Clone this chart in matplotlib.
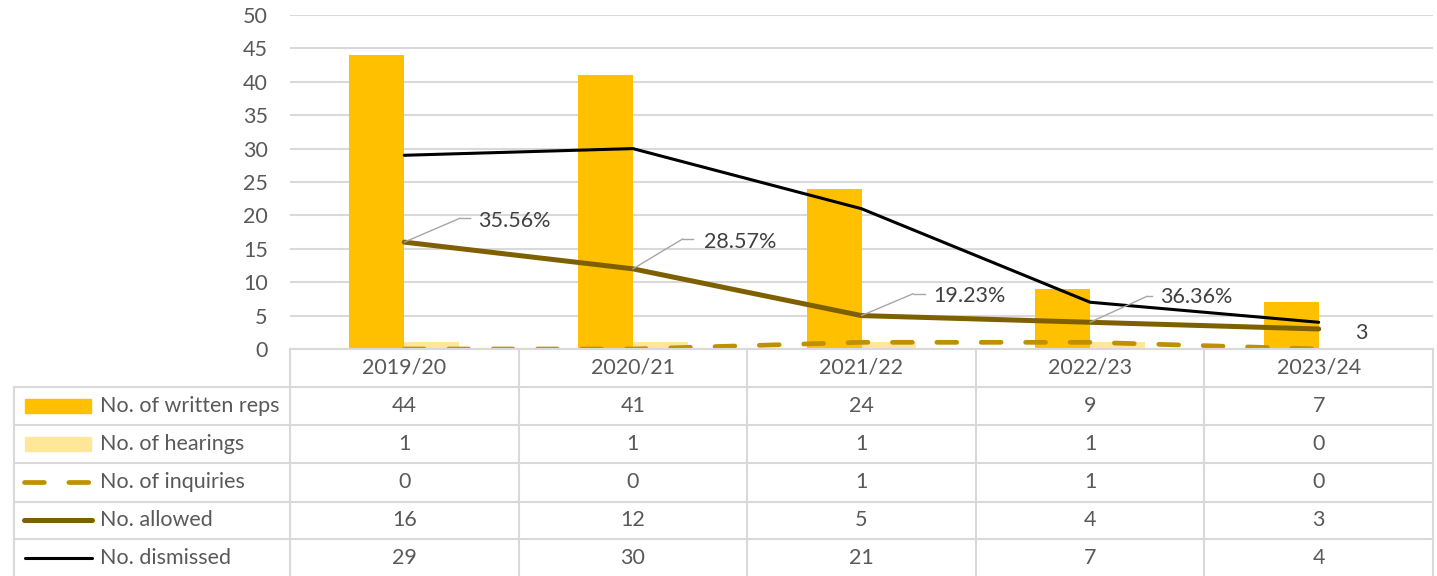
import matplotlib
matplotlib.use("Agg")
import matplotlib.pyplot as plt
from matplotlib.transforms import blended_transform_factory
from matplotlib.patches import Rectangle
from matplotlib.lines import Line2D

categories = ["2019/20", "2020/21", "2021/22", "2022/23", "2023/24"]
written_reps = [44, 41, 24, 9, 7]
hearings = [1, 1, 1, 1, 0]
inquiries = [0, 0, 1, 1, 0]
allowed = [16, 12, 5, 4, 3]
dismissed = [29, 30, 21, 7, 4]
allowed_labels = ["35.56%", "28.57%", "19.23%", "36.36%", "3"]
series_names = ["No. of written reps", "No. of hearings", "No. of inquiries",
                "No. allowed", "No. dismissed"]
yticks = [0, 5, 10, 15, 20, 25, 30, 35, 40, 45, 50]

C_WRITTEN = "#FFC000"
C_HEAR = "#FFE699"
C_INQ = "#BF9000"
C_ALLOW = "#7F6000"
C_DISM = "#000000"
C_TEXT = "#595959"
C_GRID = "#D9D9D9"

plt.rcParams["font.family"] = ["Lato", "DejaVu Sans"]
FS = 15.5

W, H = 1437, 576
fig = plt.figure(figsize=(W / 100, H / 100), dpi=100)

def fx(px):
    return px / W

def fy(py):
    return 1 - py / H

ax = fig.add_axes([fx(290), fy(349), fx(1433) - fx(290), fy(15) - fy(349)])
ax.set_xlim(-0.5, 4.5)
ax.set_ylim(0, 50)
ax.set_yticks(yticks)
ax.tick_params(axis="y", length=0, pad=16, labelsize=FS, labelcolor=C_TEXT)
ax.set_xticks([])
for s in ax.spines.values():
    s.set_visible(False)
ax.grid(axis="y", color=C_GRID, lw=1.5)
ax.set_axisbelow(True)

x = list(range(len(categories)))
bw = 0.24
ax.bar([i - 0.12 for i in x], written_reps, width=bw, color=C_WRITTEN, zorder=2)
ax.bar([i + 0.12 for i in x], hearings, width=bw, color=C_HEAR, zorder=2)

ax.plot(x, inquiries, color=C_INQ, lw=3.4, dashes=(4.2, 5.2),
        dash_capstyle="round", solid_capstyle="round", zorder=4)
ax.plot(x, allowed, color=C_ALLOW, lw=3.6, solid_capstyle="round", zorder=5)
ax.plot(x, dismissed, color=C_DISM, lw=2.2, solid_capstyle="round", zorder=6)

# data labels with leader lines (offsets in pixels)
offsets = [
    (56, 24, 66, 74, 21),
    (50, 30, 60, 71, 27),
    (52, 22, 63, 72, 20),
    (57, 26, 62, 70, 25),
]
for i, (ex, ey, hx, tx, ty) in enumerate(offsets):
    ax.annotate("", xy=(i, allowed[i]), xytext=(ex, ey), textcoords="offset pixels",
                arrowprops=dict(arrowstyle="-", color="#A6A6A6", lw=1.0,
                                shrinkA=0, shrinkB=0), zorder=7)
    p0 = ax.transData.transform((i, allowed[i]))
    fig.add_artist(Line2D([fx(p0[0] + ex), fx(p0[0] + hx)],
                          [(p0[1] + ey) / H, (p0[1] + ey) / H],
                          color="#A6A6A6", lw=1.0, transform=fig.transFigure))
    ax.annotate(allowed_labels[i], xy=(i, allowed[i]), xytext=(tx, ty),
                textcoords="offset pixels", ha="left", va="center",
                fontsize=FS, color="#404040", zorder=8)
ax.annotate(allowed_labels[4], xy=(4, allowed[4]), xytext=(36, -4),
            textcoords="offset pixels", ha="left", va="center",
            fontsize=FS, color="#404040", zorder=8)

# ----- data table -----
tr = blended_transform_factory(ax.transData, fig.transFigure)
row_lines = [387, 425, 463, 502, 539]
row_centers = [406, 444, 482, 520, 558]
lc = C_GRID
lw_t = 1.5
fig.add_artist(Line2D([fx(290), fx(1433)], [fy(349), fy(349)], color=lc, lw=lw_t))
for yy in row_lines:
    fig.add_artist(Line2D([fx(14), fx(1433)], [fy(yy), fy(yy)], color=lc, lw=lw_t))
fig.add_artist(Line2D([fx(14), fx(14)], [fy(387), 0], color=lc, lw=lw_t))
for b in [-0.5 + k for k in range(6)]:
    fig.add_artist(Line2D([b, b], [fy(349), 0], color=lc, lw=lw_t, transform=tr,
                          clip_on=False))

for i, c in enumerate(categories):
    fig.text(i, fy(368), c, transform=tr, ha="center", va="center",
             fontsize=FS, color=C_TEXT)

table_vals = [written_reps, hearings, inquiries, allowed, dismissed]
for r, vals in enumerate(table_vals):
    for i, v in enumerate(vals):
        fig.text(i, fy(row_centers[r]), str(v), transform=tr, ha="center",
                 va="center", fontsize=FS, color=C_TEXT)
    fig.text(fx(100), fy(row_centers[r]), series_names[r], ha="left",
             va="center", fontsize=FS, color=C_TEXT)

# legend keys
kc = row_centers
fig.add_artist(Rectangle((fx(25), fy(kc[0] + 7)), fx(91) - fx(25), 14 / H,
                         color=C_WRITTEN, transform=fig.transFigure))
fig.add_artist(Rectangle((fx(25), fy(kc[1] + 7)), fx(91) - fx(25), 14 / H,
                         color=C_HEAR, transform=fig.transFigure))
fig.add_artist(Line2D([fx(24), fx(90)], [fy(kc[2]), fy(kc[2])], color=C_INQ,
                      lw=3.4, dashes=(4.2, 5.2), dash_capstyle="round",
                      transform=fig.transFigure))
fig.add_artist(Line2D([fx(24), fx(92)], [fy(kc[3]), fy(kc[3])], color=C_ALLOW,
                      lw=3.6, solid_capstyle="round", transform=fig.transFigure))
fig.add_artist(Line2D([fx(25), fx(92)], [fy(kc[4]), fy(kc[4])], color=C_DISM,
                      lw=2.2, solid_capstyle="round", transform=fig.transFigure))

fig.savefig("out.png", dpi=100)
